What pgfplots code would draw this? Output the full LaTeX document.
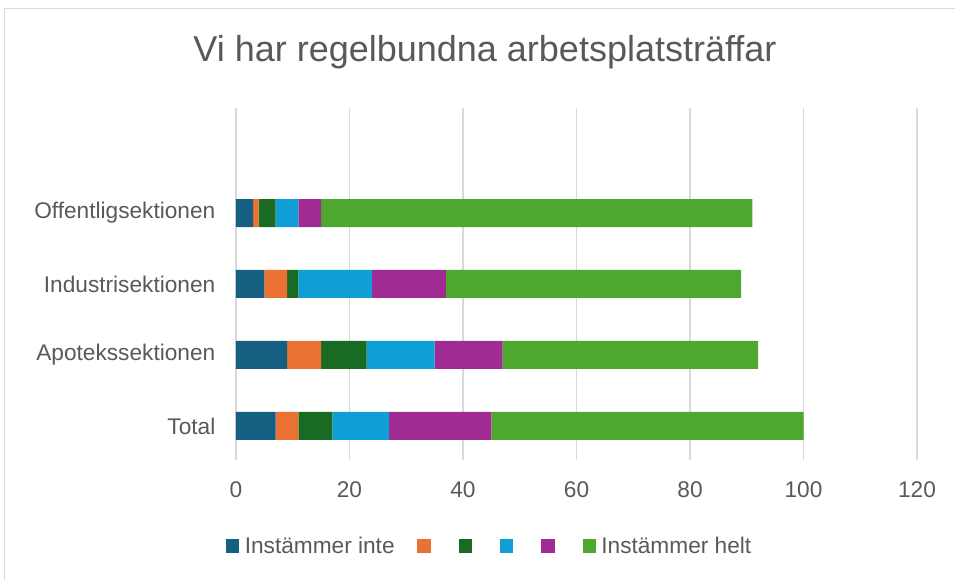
\documentclass[border=0pt]{standalone}
\usepackage{fontspec}
\setmainfont{Liberation Sans}
\usepackage{pgfplots}
\pgfplotsset{compat=1.18}

\definecolor{txt}{HTML}{595959}
\definecolor{gridc}{HTML}{D9D9D9}
\definecolor{c1}{HTML}{156082}
\definecolor{c2}{HTML}{E97132}
\definecolor{c3}{HTML}{196B24}
\definecolor{c4}{HTML}{0F9ED5}
\definecolor{c5}{HTML}{A02B93}
\definecolor{c6}{HTML}{4EA72E}

% rows: 0 Total, 1 Apotek, 2 Industri, 3 Offentlig
\pgfplotstableread{
pos s1 s2 s3 s4 s5 s6
0   7  4  6  10 18 55
1   9  6  8  12 12 45
2   5  4  2  13 13 52
3   3  1  3  4  4  76
}\data

\begin{document}
\begin{tikzpicture}[x=0.75pt,y=0.75pt]
% frame and page size (1px = 0.75pt, axis origin at pixel (236,460))
\path[use as bounding box] (-236,-120) rectangle (719,460);
\draw[gridc, line width=1pt] (-231.5,-120) -- (-231.5,451.5) -- (719,451.5);
\node[txt, font=\fontsize{27}{32}\selectfont] at (249,408) {Vi har regelbundna arbetsplatsträffar};
\begin{axis}[
    at={(0,0)}, anchor=south west,
    scale only axis,
    width=510.75pt, height=264pt,
    xbar stacked,
    bar width=21pt,
    xmin=0, xmax=120,
    ymin=-0.48, ymax=4.48,
    xtick={0,20,...,120},
    ytick={0,1,2,3},
    yticklabels={Total,Apotekssektionen,Industrisektionen,Offentligsektionen},
    axis line style={draw=none},
    major tick length=0pt,
    xmajorgrids,
    grid style={gridc, line width=1.1pt},
    tick label style={txt, font=\fontsize{17}{20}\selectfont},
    /pgf/number format/assume math mode=true,
    xticklabel style={yshift=-13pt},
    yticklabel style={xshift=-12pt},
    legend style={
        at={(0.373,-0.244)}, anchor=center,
        draw=none, fill=none,
        legend columns=-1,
        font=\fontsize{17}{20}\selectfont,
        text=txt,
        /tikz/every even column/.append style={column sep=15pt},
        /tikz/every odd column/.append style={column sep=2pt},
    },
    legend image code/.code={\fill[#1] (0pt,-5pt) rectangle (10pt,5pt);},
]
\addplot[fill=c1, draw=none] table[x=s1, y=pos] {\data};
\addplot[fill=c2, draw=none] table[x=s2, y=pos] {\data};
\addplot[fill=c3, draw=none] table[x=s3, y=pos] {\data};
\addplot[fill=c4, draw=none] table[x=s4, y=pos] {\data};
\addplot[fill=c5, draw=none] table[x=s5, y=pos] {\data};
\addplot[fill=c6, draw=none] table[x=s6, y=pos] {\data};
\legend{Instämmer inte,\mbox{},\mbox{},\mbox{},\mbox{},Instämmer helt}
\end{axis}
\end{tikzpicture}
\end{document}
